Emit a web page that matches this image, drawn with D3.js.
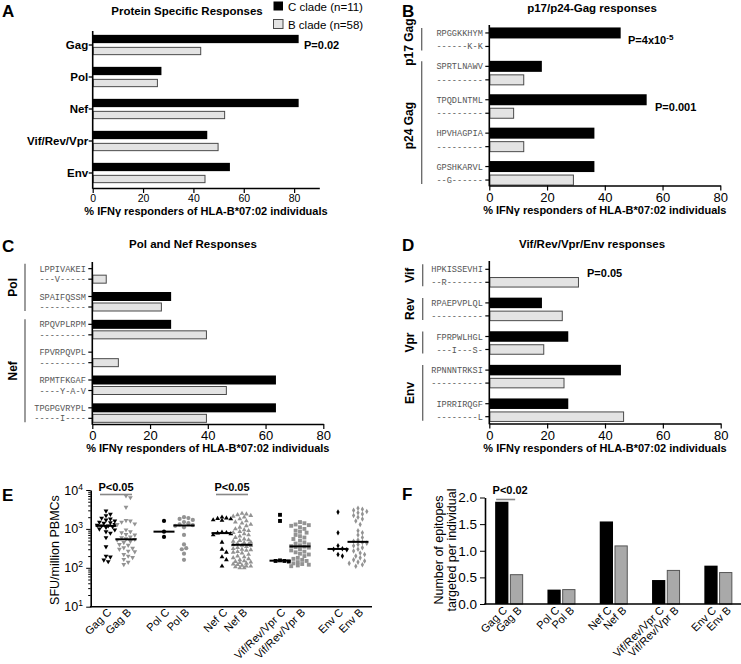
<!DOCTYPE html>
<html><head><meta charset="utf-8">
<script src="https://cdn.jsdelivr.net/npm/d3@7"></script>
<style>body{margin:0;background:#fff}</style>
</head><body><svg id="c" width="741" height="664" style="background:#fff"></svg>
<script>
const FONT = '"Liberation Sans", Arial, sans-serif';
const MONO = '"Liberation Mono", "Courier New", monospace';

// ---------- DATA ----------
// Panel A
const protCats = ["Gag", "Pol", "Nef", "Vif/Rev/Vpr", "Env"];
const protC = [81.8, 27.3, 81.8, 45.5, 54.5];
const protB = [43.1, 25.9, 52.6, 50.0, 44.8];
// Panel B
const gagSeqC = ["RPGGKKHYM", "SPRTLNAWV", "TPQDLNTML", "HPVHAGPIA", "GPSHKARVL"];
const gagSeqB = ["------K-K", "---------", "---------", "---------", "--G------"];
const gagC = [45.5, 18.2, 54.5, 36.4, 36.4];
const gagB = [0, 12.1, 8.6, 12.1, 29.3];
const gagGroups = [["p17 Gag", 0, 0], ["p24 Gag", 1, 4]];
// Panel C
const polNefSeqC = ["LPPIVAKEI", "SPAIFQSSM", "RPQVPLRPM", "FPVRPQVPL", "RPMTFKGAF", "TPGPGVRYPL"];
const polNefSeqB = ["---V-----", "---------", "---------", "---------", "----Y-A-V", "-----I----"];
const polNefC = [0, 27.3, 27.3, 0, 63.6, 63.6];
const polNefB = [5.0, 24.1, 39.7, 9.2, 46.6, 39.7];
const polNefGroups = [["Pol", 0, 1], ["Nef", 2, 5]];
// Panel D
const accSeqC = ["HPKISSEVHI", "RPAEPVPLQL", "FPRPWLHGL", "RPNNNTRKSI", "IPRRIRQGF"];
const accSeqB = ["--R-------", "----------", "---I---S-", "----------", "--------L"];
const accC = [0, 18.2, 27.3, 45.5, 27.3];
const accB = [31.0, 25.4, 19.0, 26.0, 46.6];
const accGroups = [["Vif", 0, 0], ["Rev", 1, 1], ["Vpr", 2, 2], ["Env", 3, 4]];
const xTicks = [0, 20, 40, 60, 80];
// Panel E (SFU / million PBMCs)
const proteins = ["Gag", "Pol", "Nef", "Vif/Rev/Vpr", "Env"];
const sfuC = [
  [2900, 2400, 2200, 1900, 1800, 1700, 1600, 1500, 1450, 1400, 1300, 1250, 1200, 1200, 1150, 1100, 1000, 950, 850, 780, 600, 350, 200, 190, 160, 145],
  [1600, 850, 620],
  [2000, 1900, 1850, 1800, 1700, 1650, 820, 800, 780, 750, 700, 450, 300, 250, 190, 160, 110],
  [2300, 1600, 155, 150, 150, 145],
  [2700, 800, 370, 310, 300, 290, 220, 200]
];
const sfuB = [
  [7100, 6400, 3600, 1650, 1600, 1500, 1350, 1300, 950, 850, 800, 720, 700, 620, 600, 560, 540, 520, 480, 450, 400, 380, 330, 320, 300, 270, 260, 220, 200, 185, 165, 140, 122],
  [2000, 1900, 1800, 1700, 1500, 1400, 1300, 1250, 1200, 1100, 700, 400, 320, 300, 230, 160],
  [2500, 2400, 2300, 2200, 2100, 2000, 1800, 1600, 1500, 1400, 1300, 1200, 1100, 1000, 950, 900, 850, 800, 750, 700, 650, 600, 550, 520, 500, 480, 460, 440, 420, 400, 390, 380, 370, 350, 330, 310, 300, 290, 280, 260, 250, 240, 220, 200, 190, 180, 170, 160, 150, 145, 140, 135, 130, 125, 120, 115, 110, 110, 105, 100, 100],
  [1500, 1400, 1300, 1250, 1200, 1100, 1000, 900, 850, 800, 700, 650, 600, 550, 500, 450, 420, 400, 380, 360, 350, 340, 330, 300, 280, 260, 250, 230, 220, 200, 180, 170, 160, 150, 140, 130, 125, 120, 115, 110],
  [3400, 3200, 3000, 2800, 2600, 2400, 2200, 2000, 1800, 1600, 1300, 900, 800, 700, 600, 520, 480, 450, 430, 400, 370, 330, 300, 270, 240, 220, 200, 180, 160, 150, 140, 130, 120, 110]
];
const sfuTicks = [10, 100, 1000, 10000];
// Panel F
const epiC = [1.92, 0.27, 1.55, 0.45, 0.72];
const epiB = [0.56, 0.28, 1.10, 0.64, 0.60];
const epiTicks = [0, 0.5, 1.0, 1.5, 2.0];

// ---------- DRAW ----------
const svg = d3.select("#c");

function txt(g, x, y, s, o = {}) {
  return g.append("text").attr("x", x).attr("y", y).text(s)
    .attr("font-family", o.family || FONT).attr("font-size", o.size || 11)
    .attr("font-weight", o.bold ? "bold" : "normal")
    .attr("text-anchor", o.anchor || "start").attr("fill", o.fill || "#000");
}

function hbar(c) {
  const g = svg.append("g");
  const x = d3.scaleLinear().domain([0, c.xmax]).range([c.xl, c.xr]);
  const n = c.cVals.length;
  const yo = d3.scaleBand().domain(d3.range(n)).range([c.top, c.bottom]);
  const yi = d3.scaleBand().domain(["C", "B"]).range([0, c.innerL]).paddingInner(c.innerP);
  const rowTop = (i, k) => yo(i) + yo.bandwidth() / 2 - c.innerL / 2 + yi(k);
  const rowMid = (i, k) => rowTop(i, k) + yi.bandwidth() / 2;

  g.selectAll(".bc").data(c.cVals.map((v, i) => ({ v, i })).filter(d => d.v > 0)).join("rect")
    .attr("x", x(0)).attr("y", d => rowTop(d.i, "C")).attr("width", d => x(d.v) - x(0))
    .attr("height", yi.bandwidth()).attr("fill", "#000");
  g.selectAll(".bb").data(c.bVals.map((v, i) => ({ v, i })).filter(d => d.v > 0)).join("rect")
    .attr("x", x(0) + 0.5).attr("y", d => rowTop(d.i, "B") + 0.5).attr("width", d => x(d.v) - x(0) - 1)
    .attr("height", yi.bandwidth() - 1).attr("fill", "#e3e3e3").attr("stroke", "#4a4a4a").attr("stroke-width", 1);

  const ax = g.append("g").attr("transform", `translate(0,${c.axisY})`)
    .call(d3.axisBottom(x).tickValues(xTicks).tickSize(5).tickSizeOuter(0).tickPadding(2));
  ax.select(".domain").attr("stroke-width", 1.6).attr("stroke", "#000");
  ax.selectAll(".tick line").attr("stroke-width", 1.2);
  ax.selectAll("text").attr("font-family", FONT).attr("font-size", c.tickFs).attr("fill", "#000");
  g.append("line").attr("x1", x(0)).attr("x2", x(0)).attr("y1", c.top + 2).attr("y2", c.axisY + 0.8)
    .attr("stroke", "#000").attr("stroke-width", 1.6);

  if (c.cats) {
    c.cats.forEach((name, i) => {
      const yy = yo(i) + yo.bandwidth() / 2;
      g.append("line").attr("x1", x(0) - 4).attr("x2", x(0)).attr("y1", yy).attr("y2", yy).attr("stroke", "#000").attr("stroke-width", 1.3);
      txt(g, x(0) - 4.5, yy, name, { size: 11.5, bold: true, anchor: "end" }).attr("dy", "0.36em");
    });
  } else {
    d3.range(n).forEach(i => {
      [["C", c.seqC[i]], ["B", c.seqB[i]]].forEach(([k, s]) => {
        const yy = rowMid(i, k);
        g.append("line").attr("x1", x(0) - 4).attr("x2", x(0)).attr("y1", yy).attr("y2", yy).attr("stroke", "#000").attr("stroke-width", 1.2);
        txt(g, x(0) - 6.5, yy, s, { size: 8.6, family: MONO, anchor: "end", fill: "#555" }).attr("dy", "0.35em");
      });
    });
    c.groups.forEach(([name, a, b]) => {
      const y1 = rowMid(a, "C") - 5, y2 = rowMid(b, "B") + 4;
      const lx = c.xl - c.bracketOff;
      g.append("line").attr("x1", lx).attr("x2", lx).attr("y1", y1).attr("y2", y2).attr("stroke", "#666").attr("stroke-width", 1.3);
      txt(g, 0, 0, name, { size: 12, bold: true, anchor: "middle" })
        .attr("transform", `translate(${lx - 8.5},${(y1 + y2) / 2 + (c.labelShift || 0)}) rotate(-90)`);
    });
  }
  txt(g, (c.xl + c.xr) / 2, c.labelY, "% IFNγ responders of HLA-B*07:02 individuals", { size: 11, bold: true, anchor: "middle" });
  txt(g, c.titleX, c.titleY, c.title, { size: 11.5, bold: true, anchor: "middle" });
  return { g, x, rowMid, yo };
}

// Panel A
const pA = hbar({ xl: 92.7, xr: 319.3, xmax: 90, axisY: 188, top: 29, bottom: 189, innerL: 20.3, innerP: 0.31,
  cVals: protC, bVals: protB, cats: protCats, tickFs: 10.5, labelY: 215, title: "Protein Specific Responses", titleX: 187, titleY: 15 });
txt(svg, 304, pA.yo(0) + pA.yo.bandwidth() / 2 + 4, "P=0.02", { size: 11, bold: true });
svg.append("rect").attr("x", 273.5).attr("y", 1.5).attr("width", 9.5).attr("height", 9).attr("fill", "#000");
svg.append("rect").attr("x", 273.5).attr("y", 19.5).attr("width", 9.5).attr("height", 9).attr("fill", "#e3e3e3").attr("stroke", "#4a4a4a");
txt(svg, 288, 10.5, "C clade (n=11)", { size: 11.5 });
txt(svg, 288, 28.5, "B clade (n=58)", { size: 11.5 });

// Panel B
const pB = hbar({ xl: 489.3, xr: 720.3, xmax: 80, axisY: 185.5, top: 23, bottom: 190, innerL: 24.5, innerP: 0.185,
  cVals: gagC, bVals: gagB, seqC: gagSeqC, seqB: gagSeqB, groups: gagGroups, bracketOff: 67.6, tickFs: 13,
  labelY: 214, title: "p17/p24-Gag responses", titleX: 592, titleY: 12, labelShift: 3 });
{
  const t = txt(svg, 628, pB.yo(0) + pB.yo.bandwidth() / 2 + 4, "P=4x10", { size: 11, bold: true });
  t.append("tspan").attr("dy", -4).attr("font-size", 8).text("-5");
  txt(svg, 655, pB.yo(2) + pB.yo.bandwidth() / 2 + 4, "P=0.001", { size: 11, bold: true });
}

// Panel C
hbar({ xl: 92.3, xr: 323.3, xmax: 80, axisY: 424, top: 260, bottom: 427, innerL: 19.5, innerP: 0.143,
  cVals: polNefC, bVals: polNefB, seqC: polNefSeqC, seqB: polNefSeqB, groups: polNefGroups, bracketOff: 67.3, tickFs: 13,
  labelY: 452, title: "Pol and Nef Responses", titleX: 193, titleY: 248 });

// Panel D
const pD = hbar({ xl: 489.3, xr: 720.7, xmax: 80, axisY: 423.5, top: 259, bottom: 427, innerL: 23.5, innerP: 0.19,
  cVals: accC, bVals: accB, seqC: accSeqC, seqB: accSeqB, groups: accGroups, bracketOff: 66.6, tickFs: 13,
  labelY: 452, title: "Vif/Rev/Vpr/Env responses", titleX: 592, titleY: 248 });
txt(svg, 587, pD.rowMid(0, "C") + 8, "P=0.05", { size: 11, bold: true });

[["A", 2, 17], ["B", 402, 17], ["C", 2, 252], ["D", 402, 251], ["E", 2, 501], ["F", 402, 500]].forEach(([l, x, y]) =>
  txt(svg, x, y, l, { size: 17, bold: true }));

// ---------- Panel E ----------
{
  const g = svg.append("g");
  const y = d3.scaleLog().domain([10, 10000]).range([606.7, 490]);
  const xg = d3.scaleBand().domain(proteins).range([87, 377]);
  const xi = d3.scalePoint().domain(["C", "B"]).range([-10, 10]);
  const axX = 90.7;
  const symbols = [
    { t: d3.symbolTriangle, s: 10, rot: 180 },
    { t: d3.symbolCircle, s: 14, rot: 0 },
    { t: d3.symbolTriangle, s: 10, rot: 0 },
    { t: d3.symbolSquare, s: 15, rot: 0 },
    { t: d3.symbolDiamond, s: 9, rot: 0 }
  ];
  function swarm(vals, cx) {
    const pts = vals.map(v => ({ v, y: y(v) })).sort((a, b) => a.y - b.y);
    const placed = [];
    const dmin = 4.2, step = 2.2, maxOff = 10;
    const offs = [0];
    for (let k = 1; k * step <= maxOff; k++) { offs.push(k * step, -k * step); }
    pts.forEach(p => {
      let best = null, bestScore = -1;
      for (const o of offs) {
        let md = Infinity;
        for (const q of placed) { const dd = Math.hypot(q.x - (cx + o), q.y - p.y); if (dd < md) md = dd; }
        if (md >= dmin) { best = o; bestScore = Infinity; break; }
        if (md > bestScore) { bestScore = md; best = o; }
      }
      p.x = cx + best; placed.push(p);
    });
    return placed;
  }
  proteins.forEach((pr, i) => {
    const sym = d3.symbol().type(symbols[i].t).size(symbols[i].s);
    [["C", sfuC[i], "#000"], ["B", sfuB[i], "#939393"]].forEach(([k, vals, col]) => {
      const cx = xg(pr) + xg.bandwidth() / 2 + xi(k);
      const pts = swarm(vals, cx);
      g.selectAll(null).data(pts).join("path").attr("d", sym)
        .attr("transform", d => `translate(${d.x},${d.y}) rotate(${symbols[i].rot})`).attr("fill", col);
      const m = d3.median(vals);
      g.append("line").attr("x1", cx - 10.5).attr("x2", cx + 10.5).attr("y1", y(m)).attr("y2", y(m))
        .attr("stroke", "#000").attr("stroke-width", 2);
    });
  });
  const minor = [];
  [10, 100, 1000].forEach(d => { for (let m = 2; m <= 9; m++) minor.push(d * m); });
  const ayMinor = g.append("g").attr("transform", `translate(${axX},0)`)
    .call(d3.axisLeft(y).tickValues(minor).tickSize(2.5).tickFormat(""));
  ayMinor.select(".domain").remove();
  const ay = g.append("g").attr("transform", `translate(${axX},0)`)
    .call(d3.axisLeft(y).tickValues(sfuTicks).tickSize(4.5).tickSizeOuter(0).tickFormat(""));
  ay.select(".domain").attr("stroke-width", 1.6);
  g.selectAll(".tick line").attr("stroke", "#000").attr("stroke-width", 1);
  sfuTicks.forEach(v => {
    const t = txt(g, 83, y(v) + 4.5, "10", { size: 12.5, anchor: "end" });
    t.append("tspan").attr("dy", -5).attr("font-size", 8.5).text(Math.round(Math.log10(v)));
  });
  g.append("line").attr("x1", axX - 0.8).attr("x2", 372).attr("y1", 606.7).attr("y2", 606.7).attr("stroke", "#000").attr("stroke-width", 1.6);
  txt(g, 0, 0, "SFU/million PBMCs", { size: 12.5, anchor: "middle" }).attr("transform", "translate(59,550) rotate(-90)");
  proteins.forEach(pr => {
    ["C", "B"].forEach(k => {
      const cx = xg(pr) + xg.bandwidth() / 2 + xi(k);
      txt(g, 0, 0, pr + " " + k, { size: 11, anchor: "end" }).attr("transform", `translate(${cx + 6},${613}) rotate(-45)`);
    });
  });
  ["Gag", "Nef"].forEach(pr => {
    const cx = xg(pr) + xg.bandwidth() / 2;
    txt(g, cx, 490.5, "P<0.05", { size: 11, bold: true, anchor: "middle" });
    g.append("line").attr("x1", cx - 16).attr("x2", cx + 16).attr("y1", 494.5).attr("y2", 494.5).attr("stroke", "#888").attr("stroke-width", 1.6);
  });
}

// ---------- Panel F ----------
{
  const g = svg.append("g");
  const y = d3.scaleLinear().domain([0, 2]).range([604, 497.5]);
  const xg = d3.scaleBand().domain(proteins).range([483, 744.5]);
  const xi = d3.scaleBand().domain(["C", "B"]).range([-14, 14]).paddingInner(0.1);
  proteins.forEach((pr, i) => {
    const c0 = xg(pr) + xg.bandwidth() / 2;
    g.append("rect").attr("x", c0 + xi("C")).attr("y", y(epiC[i])).attr("width", xi.bandwidth())
      .attr("height", y(0) - y(epiC[i])).attr("fill", "#000");
    g.append("rect").attr("x", c0 + xi("B") + 0.5).attr("y", y(epiB[i]) + 0.5).attr("width", xi.bandwidth() - 1)
      .attr("height", y(0) - y(epiB[i]) - 0.5).attr("fill", "#a9a9a9").attr("stroke", "#555").attr("stroke-width", 1);
    ["C", "B"].forEach(k => {
      const cx = c0 + xi(k) + xi.bandwidth() / 2;
      txt(g, 0, 0, pr + " " + k, { size: 11, anchor: "end" }).attr("transform", `translate(${cx + 6},${611}) rotate(-45)`);
    });
  });
  const ay = g.append("g").attr("transform", "translate(485,0)")
    .call(d3.axisLeft(y).tickValues(epiTicks).tickFormat(d3.format(".1f")).tickSize(5).tickSizeOuter(0).tickPadding(3));
  ay.select(".domain").attr("stroke-width", 1.6);
  ay.selectAll("text").attr("font-family", FONT).attr("font-size", 13.5).attr("fill", "#000");
  g.append("line").attr("x1", 484.2).attr("x2", 741).attr("y1", 604).attr("y2", 604).attr("stroke", "#000").attr("stroke-width", 1.6);
  txt(g, 0, 0, "Number of epitopes", { size: 12.5, anchor: "middle" }).attr("transform", "translate(443,550) rotate(-90)");
  txt(g, 0, 0, "targeted per individual", { size: 12.5, anchor: "middle" }).attr("transform", "translate(456,550) rotate(-90)");
  const cg = xg("Gag") + xg.bandwidth() / 2;
  txt(g, cg + 1, 494, "P<0.02", { size: 11, bold: true, anchor: "middle" });
  g.append("line").attr("x1", cg - 13).attr("x2", cg + 6).attr("y1", 499.5).attr("y2", 499.5).attr("stroke", "#888").attr("stroke-width", 1.6);
}
</script></body></html>
